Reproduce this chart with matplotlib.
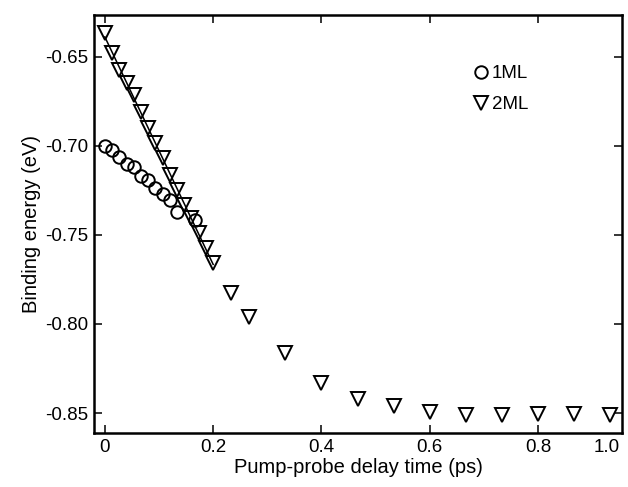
import numpy as np
import matplotlib
matplotlib.use("Agg")
import matplotlib.pyplot as plt
from matplotlib.ticker import FormatStrFormatter

plt.rcParams['font.family'] = ['Liberation Sans', 'DejaVu Sans']
plt.rcParams['axes.unicode_minus'] = False

# 1ML (circles)
t_1ml = [0.0, 0.0133, 0.0267, 0.04, 0.0533, 0.0667, 0.08, 0.0933, 0.1067, 0.12, 0.1333, 0.1667]
e_1ml = [-0.7002, -0.7025, -0.7062, -0.7103, -0.7118, -0.7173, -0.7193, -0.7235, -0.7271, -0.7305, -0.7371, -0.7416]

# 2ML (triangles)
t_2ml = [0.0, 0.0133, 0.0267, 0.04, 0.0533, 0.0667, 0.08, 0.0933, 0.1067, 0.12,
         0.1333, 0.1467, 0.16, 0.1733, 0.1867, 0.2,
         0.2333, 0.2667, 0.3333, 0.4, 0.4667, 0.5333, 0.6, 0.6667, 0.7333, 0.8, 0.8667, 0.9333]
e_2ml = [-0.637, -0.6482, -0.6576, -0.665, -0.6716, -0.681, -0.6903, -0.6987, -0.7071, -0.7165,
         -0.7249, -0.7333, -0.7408, -0.7492, -0.7576, -0.766,
         -0.7828, -0.796, -0.8165, -0.833, -0.842, -0.8462, -0.8494, -0.851, -0.851, -0.8507, -0.8507, -0.851]

# linear fit range for 2ML
n_fit = 16
fit_x = [0.0, 0.2]

xtick_pos = [0, 0.2, 0.4, 0.6, 0.8]
xtick_lab = ['0', '0.2', '0.4', '0.6', '0.8']
ytick_pos = [-0.85, -0.80, -0.75, -0.70, -0.65]

fig = plt.figure(figsize=(6.28, 4.87), dpi=100)
ax = fig.add_axes([0.1497, 0.1109, 0.8407, 0.8583])

# линейная аппроксимация начального участка
p = np.polyfit(t_2ml[:n_fit], e_2ml[:n_fit], 1)
ax.plot(fit_x, np.polyval(p, fit_x), color='black', lw=1.1)

ax.plot(t_1ml, e_1ml, 'o', ms=9, mfc='none', mec='black', mew=1.4, label='1ML')
ax.plot(t_2ml, e_2ml, 'v', ms=10.5, mfc='none', mec='black', mew=1.4, label='2ML')

ax.set_xlim(-0.02, 0.955)
ax.set_ylim(-0.8612, -0.6267)
ax.set_xticks(xtick_pos, xtick_lab)
# подпись "1.0" стоит не на своём месте, как в оригинале
ax.set_xticks([0.926], ['1.0'], minor=True)
ax.set_yticks(ytick_pos)
ax.yaxis.set_major_formatter(FormatStrFormatter('%.2f'))

ax.tick_params(which='major', direction='in', top=True, right=True, length=6, width=1.1,
               labelsize=13.5, pad=4)
ax.tick_params(which='minor', direction='in', top=True, right=True, length=0,
               labelsize=13.5, pad=4)
ax.yaxis.set_minor_locator(matplotlib.ticker.NullLocator())
for s in ax.spines.values():
    s.set_linewidth(1.8)

ax.set_xlabel('Pump-probe delay time (ps)', fontsize=14.5, labelpad=2)
ax.set_ylabel('Binding energy (eV)', fontsize=14.5, labelpad=3)

ax.legend(loc='upper left', bbox_to_anchor=(0.72, 0.88), frameon=False, fontsize=13.5,
          handlelength=0.7, handletextpad=0.25, labelspacing=0.75, borderpad=0, borderaxespad=0)

fig.savefig('out.png', dpi=100)
